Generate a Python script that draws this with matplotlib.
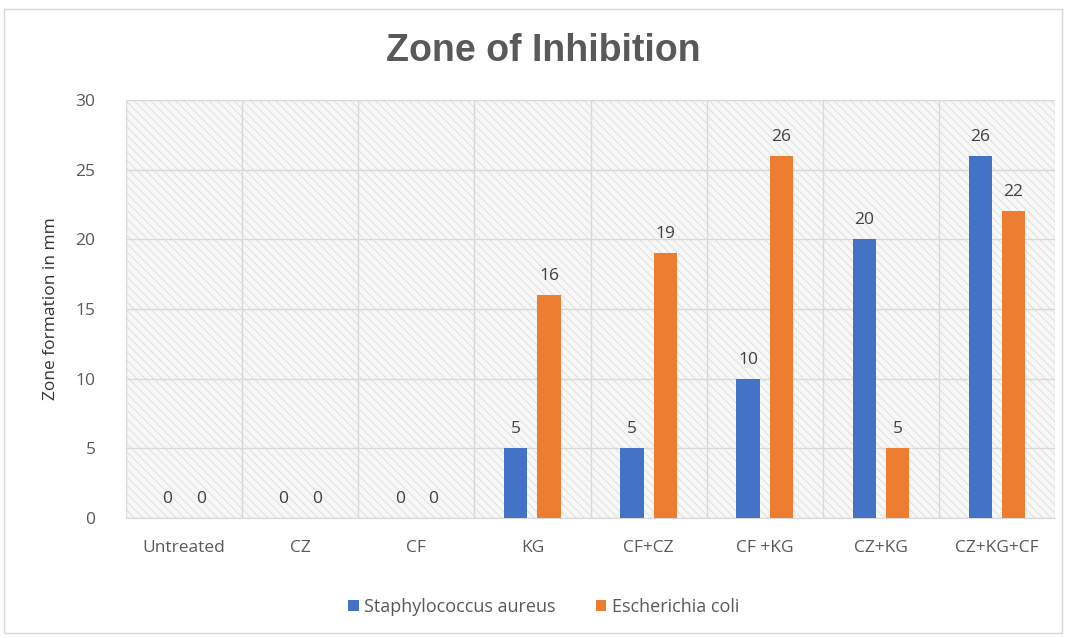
import matplotlib
matplotlib.use("Agg")
import matplotlib.pyplot as plt
import numpy as np
from matplotlib.patches import Rectangle, Patch

categories = ["Untreated", "CZ", "CF", "KG", "CF+CZ", "CF +KG", "CZ+KG", "CZ+KG+CF"]
staph = [0, 0, 0, 5, 5, 10, 20, 26]
ecoli = [0, 0, 0, 16, 19, 26, 5, 22]
series_names = ["Staphylococcus aureus", "Escherichia coli"]
colors = ["#4472C4", "#ED7D31"]
y_ticks = [0, 5, 10, 15, 20, 25, 30]

plt.rcParams["font.family"] = ["Open Sans", "DejaVu Sans"]
plt.rcParams["hatch.linewidth"] = 0.6
plt.rcParams["hatch.color"] = "#dcdcdc"

fig = plt.figure(figsize=(10.66, 6.38), dpi=100)
fig.patch.set_facecolor("white")
# thin frame round the whole chart
fig.patches.append(Rectangle((0.004, 0.008), 0.992, 0.978, transform=fig.transFigure,
                             fill=False, edgecolor="#d9d9d9", linewidth=1.0))

ax = fig.add_axes([126 / 1066, 1 - 518 / 638, (1055 - 126) / 1066, (518 - 100) / 638])
ax.set_facecolor("#f7f7f7")
ax.add_patch(Rectangle((0, 0), 1, 1, transform=ax.transAxes, facecolor="#f7f7f7",
                       hatch="\\\\\\\\", edgecolor="#dcdcdc", linewidth=0, zorder=0))

n = len(categories)
x = np.arange(n)
w = 0.2
off = 0.143
b1 = ax.bar(x - off, staph, w, color=colors[0], zorder=3)
b2 = ax.bar(x + off, ecoli, w, color=colors[1], zorder=3)

for bars, vals in ((b1, staph), (b2, ecoli)):
    for rect, v in zip(bars, vals):
        ax.text(rect.get_x() + rect.get_width() / 2, v + 0.8, f"{v}",
                ha="center", va="bottom", fontsize=12.5, color="#404040", zorder=4)

ax.set_xlim(-0.5, n - 0.5)
ax.set_ylim(0, 30)
ax.set_yticks(y_ticks)
ax.set_xticks(x)
ax.set_xticklabels(categories)
ax.set_xticks(np.arange(-0.5, n, 1.0), minor=True)
ax.grid(True, axis="y", which="major", color="#d9d9d9", linewidth=1.0, zorder=1)
ax.grid(True, axis="x", which="minor", color="#d9d9d9", linewidth=1.0, zorder=1)
ax.grid(False, axis="x", which="major")
ax.tick_params(axis="both", which="both", length=0, labelsize=12.5, labelcolor="#595959")
ax.tick_params(axis="x", pad=16)
ax.tick_params(axis="y", pad=22)
for s in ("top", "right", "left"):
    ax.spines[s].set_visible(False)
ax.spines["bottom"].set_color("#d9d9d9")

ax.set_ylabel("Zone formation in mm", fontsize=12.5, color="#333333", labelpad=12)

fig.text(543 / 1066, 1 - 51 / 638, "Zone of Inhibition", ha="center", va="center",
         fontsize=27, fontweight="bold", color="#595959", family="Liberation Sans")

handles = [Patch(facecolor=c, edgecolor="none") for c in colors]
fig.legend(handles, series_names, loc="center", bbox_to_anchor=(0.51, 1 - 607 / 638),
           ncol=2, frameon=False, fontsize=13, labelcolor="#595959",
           handlelength=0.6, handleheight=0.6, columnspacing=2.2, handletextpad=0.3)

fig.savefig("out.png", dpi=100, facecolor="white")
